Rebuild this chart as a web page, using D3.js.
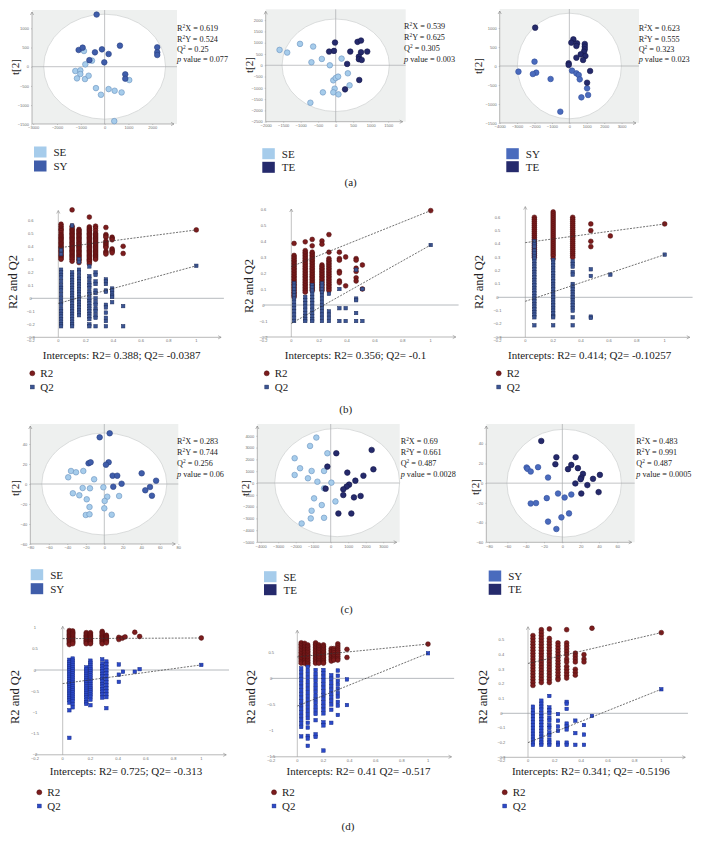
<!DOCTYPE html>
<html><head><meta charset="utf-8">
<script src="https://cdn.jsdelivr.net/npm/d3@7"></script>
<style>body{margin:0;background:#fff}svg{display:block}</style>
</head><body><svg id="chart"></svg>
<script>
// ---------------- DATA ----------------
// Score plots (a): [t1, t2]
const a1SE=[[-867,409],[-531,157],[-811,61],[-1231,-113],[-1021,-96],[-1021,-191],[-1161,-304],[-825,-322],[-671,-235],[-364,-557],[-154,-730],[168,-583],[420,-626],[713,-670],[1035,-348],[405,-1417]];
const a1SY=[[-336,1357],[-1091,435],[-923,496],[-406,374],[-112,452],[168,330],[643,548],[-14,113],[-640,170],[2210,504],[2210,374],[2210,304],[867,-200],[867,-313]];
const a2SE=[[-1604,681],[-1386,563],[-1020,948],[-644,830],[-693,133],[-396,281],[-168,0],[168,296],[347,-356],[-69,-667],[0,-563],[69,-504],[396,-889],[-30,-1037],[-366,-1200],[-69,-1200],[79,-1289],[-723,-1659]];
const a2TE=[[-20,1007],[-188,607],[-50,637],[624,1037],[723,1096],[416,607],[723,578],[901,607],[663,385],[663,267],[743,237],[327,59],[673,-652],[267,-1067]];
const a3SY=[[-2923,-149],[-2000,114],[-1904,-175],[-2096,-211],[-1077,-342],[154,-123],[404,-193],[538,-237],[596,-351],[1019,-588],[1077,-763],[692,-825],[-519,-1202]];
const a3TE=[[-1962,1009],[231,702],[115,614],[442,596],[404,526],[885,579],[885,509],[885,439],[846,377],[654,307],[923,263],[788,158],[404,219],[-38,70],[-38,26],[1192,-132],[1019,-439]];
// Score plots (c)
const c1SE=[[-36,13],[-30.6,11.7],[-39,6.7],[-22.7,13],[-11,4.7],[-23.4,-4],[-15.5,-4.3],[-34,-9.3],[-27,-11.3],[-19,-15.3],[-1,-3.3],[3.2,-12.7],[0.4,-17],[16,-12],[-16,-23],[0,-24.3],[-20,-31],[-16,-30.3],[8,-30.7]];
const c1SY=[[-5,46.7],[5.8,50.7],[-17,20.7],[-14.8,21.7],[4.7,21.7],[1.8,19.3],[9,8.3],[14,8.3],[18.7,0.3],[9.7,-2.7],[40.4,10.7],[56,3.3],[49.4,-3],[44.3,-6.3],[51.5,-11.7]];
const c2SE=[[-820,3850],[-1180,3140],[-190,2520],[-2060,2100],[-1750,1250],[-1090,1020],[-2060,680],[-380,1020],[-1300,400],[-760,110],[40,30],[-380,-450],[-950,-1300],[-510,-1870],[270,-1560],[-1090,-2350],[-1140,-3000],[-380,-2950],[-1660,-3430]];
const c2TE=[[320,2520],[-190,1390],[2340,2800],[2440,1160],[950,880],[1870,620],[1410,200],[1050,-140],[910,-310],[720,-540],[-290,-480],[720,-1020],[1330,-1220],[1710,-1100],[440,-2580],[1180,-2580]];
const c3SY=[[-39,15.9],[-38,14.5],[-34.5,11.8],[-26.5,16.2],[-15.6,5.7],[-17,-15.2],[-4.7,-10.5],[2.5,-14.5],[9.8,-11.5],[-34.5,-20.6],[-28.7,-20.2],[7.3,-30.7],[-1,-34.7],[-15.6,-39],[-6.5,-46.5]];
const c3TE=[[-23,42.8],[-6.5,26.3],[14.5,26.3],[-7.6,19.2],[9.8,18.5],[6.2,14.2],[17,15.2],[22.5,9.4],[20.7,5.7],[20,4],[33.5,4.4],[41,8.4],[14.2,-0.3],[27.3,-2],[20.7,-10.5],[39.6,-9.1]];
// ellipses [cx, cy, rx, ry] in data units
const ellipses={a1:[0,0,2560,1367],a2:[0,0,1533,2050],a3:[0,0,2990,1390],c1:[0,0,67.6,51],c2:[370,40,3570,4590],c3:[2,0,62.5,54.7]};
// model statistics: R2X, R2Y, Q2, p value
const a1Stats=["0.619","0.524","0.25","0.077"];
const a2Stats=["0.539","0.625","0.305","0.003"];
const a3Stats=["0.623","0.555","0.323","0.023"];
const c1Stats=["0.283","0.744","0.256","0.06"];
const c2Stats=["0.69","0.661","0.487","0.0028"];
const c3Stats=["0.483","0.991","0.487","0.0005"];
// axis ticks
const a1Xt=[-3000,-2000,-1000,0,1000,2000], a1Yt=[-1500,-1000,-500,0,500,1000];
const a2Xt=[-2000,-1500,-1000,-500,0,500,1000,1500], a2Yt=[-2500,-2000,-1500,-1000,-500,0,500,1000,1500,2000];
const a3Xt=[-4000,-3000,-2000,-1000,0,1000,2000,3000], a3Yt=[-1500,-1000,-500,0,500,1000];
const c1Xt=[-80,-60,-40,-20,0,20,40,60,80], c1Yt=[-60,-40,-20,0,20,40];
const c2Xt=[-4000,-3000,-2000,-1000,0,1000,2000,3000], c2Yt=[-5000,-4000,-3000,-2000,-1000,0,1000,2000,3000,4000];
const c3Xt=[-80,-60,-40,-20,0,20,40,60], c3Yt=[-60,-40,-20,0,20,40];
const permXt=[-0.2,0,0.2,0.4,0.6,0.8,1];

// Permutation plots: [correlation, [values...]]
const b1R2=[[0.02,[0.57,0.555,0.54,0.53,0.52,0.505,0.49,0.48,0.47,0.46,0.45,0.44,0.43,0.42,0.41,0.40,0.39,0.38,0.37,0.36,0.35,0.34,0.33,0.32,0.31,0.30]],
 [0.10,[0.68,0.555,0.54,0.53,0.52,0.51,0.50,0.49,0.48,0.47,0.46,0.45,0.44,0.43,0.42,0.41,0.40,0.39,0.38,0.37,0.36,0.35,0.34,0.33,0.32,0.31,0.30,0.285]],
 [0.15,[0.53,0.52,0.51,0.50,0.49,0.48,0.47,0.46,0.45,0.44,0.43,0.42,0.41,0.40,0.39,0.38,0.37,0.36,0.35,0.34,0.33,0.32,0.31,0.30,0.29,0.275]],
 [0.225,[0.625,0.55,0.54,0.53,0.52,0.51,0.50,0.49,0.48,0.47,0.46,0.45,0.44,0.43,0.42,0.41,0.40,0.39,0.38,0.37,0.36,0.35,0.34,0.33,0.32,0.31,0.30,0.29,0.28,0.265]],
 [0.27,[0.555,0.54,0.52,0.50,0.49,0.48,0.47,0.46,0.45,0.44,0.43,0.42,0.41,0.40,0.39,0.38,0.37,0.36,0.35,0.34,0.33,0.32,0.31,0.30]],
 [0.345,[0.545,0.49,0.48,0.47,0.44,0.43,0.42,0.41,0.40,0.39,0.36,0.35,0.34]],
 [0.39,[0.47,0.46,0.45,0.38,0.37,0.36,0.35]],
 [0.47,[0.40,0.345]],
 [1,[0.526]]];
const b1Q2=[[0.02,[0.37,0.34,0.22,0.20,0.18,0.16,0.13,0.10,0.08,0.06,0.03,0.0,-0.03,-0.05,-0.08,-0.10,-0.12,-0.14,-0.16,-0.18,-0.20,-0.215]],
 [0.10,[0.56,0.20,0.18,0.16,0.14,0.12,0.10,0.08,0.06,0.04,0.02,0.0,-0.02,-0.04,-0.06,-0.08,-0.10,-0.12,-0.14,-0.16,-0.18,-0.20,-0.215]],
 [0.15,[0.30,0.28,0.22,0.20,0.17,0.15,0.13,0.11,0.09,0.07,0.05,0.03,0.01,-0.01,-0.03,-0.05,-0.07,-0.09,-0.11,-0.13]],
 [0.225,[0.245,0.17,0.15,0.12,0.10,0.08,0.05,0.03,0.0,-0.02,-0.04,-0.06,-0.08,-0.10,-0.12,-0.14,-0.16,-0.20,-0.215]],
 [0.27,[0.20,0.18,0.13,0.11,0.06,0.04,0.0,-0.03,-0.05,-0.08,-0.10,-0.13,-0.15,-0.215]],
 [0.345,[0.145,0.13,0.11,0.06,0.05,-0.05,-0.07,-0.11,-0.15,-0.175,-0.215]],
 [0.39,[0.075,0.06,0.04,0.02,0.01,-0.03]],
 [0.47,[-0.06,-0.215]],
 [1,[0.25]]];
const b2R2=[[0.02,[0.385,0.31,0.30,0.29,0.28,0.27,0.26,0.25,0.24,0.23,0.22,0.21,0.20,0.19,0.18,0.17,0.16,0.15,0.14,0.13,0.12,0.11,0.10,0.09,0.08,0.07,0.06,0.05]],
 [0.10,[0.395,0.34,0.33,0.32,0.31,0.30,0.29,0.28,0.27,0.26,0.25,0.24,0.23,0.22,0.21,0.20,0.19,0.18,0.17,0.16,0.15,0.14,0.13,0.12,0.11,0.10,0.09,0.08]],
 [0.15,[0.41,0.37,0.33,0.32,0.31,0.30,0.29,0.28,0.27,0.26,0.25,0.24,0.23,0.22,0.21,0.20,0.19,0.18,0.17,0.16,0.15,0.14,0.13,0.12,0.11,0.10,0.09]],
 [0.22,[0.40,0.38,0.25,0.24,0.23,0.22,0.21,0.20,0.19,0.18,0.17,0.16,0.15,0.14,0.13,0.12,0.11,0.10,0.09]],
 [0.27,[0.44,0.33,0.29,0.28,0.27,0.26,0.25,0.24,0.23,0.22,0.21,0.20,0.19,0.18,0.17,0.16,0.15,0.14,0.13,0.12,0.11,0.10,0.09]],
 [0.345,[0.33,0.29,0.28,0.21,0.20,0.15,0.14]],
 [0.39,[0.30,0.12]],
 [0.465,[0.29,0.28,0.23,0.21,0.17,0.15]],
 [0.51,[0.25,0.10]],
 [1,[0.59]]];
const b2Q2=[[0.02,[0.135,0.12,0.10,0.08,0.06,0.04,0.02,0.0,-0.02,-0.04,-0.06,-0.08,-0.10]],
 [0.10,[0.05,0.03,0.01,-0.01,-0.03,-0.05,-0.07,-0.09,-0.10]],
 [0.15,[0.125,0.11,0.09,0.07,0.05,0.03,0.01,-0.01,-0.03,-0.05,-0.07,-0.09,-0.10]],
 [0.22,[0.135,0.12,0.10,0.08,0.06,0.04,0.02,0.0,-0.02,-0.04,-0.06,-0.08,-0.10]],
 [0.27,[0.07,-0.04,-0.06,-0.08,-0.10]],
 [0.345,[0.10,-0.02,-0.10]],
 [0.39,[-0.02,-0.10]],
 [0.465,[0.22,0.04,0.03,-0.05,-0.10]],
 [0.51,[0.10,-0.10]],
 [1,[0.375]]];
const b3R2=[[0.065,[0.6,0.585,0.57,0.555,0.54,0.525,0.51,0.495,0.48,0.465,0.45,0.435,0.42,0.405,0.39,0.375,0.36,0.345,0.33,0.315,0.3]],
 [0.2,[0.64,0.625,0.61,0.595,0.58,0.565,0.55,0.535,0.52,0.505,0.49,0.475,0.46,0.445,0.43,0.415,0.4,0.385,0.37,0.355,0.34,0.325,0.31,0.29]],
 [0.34,[0.6,0.585,0.57,0.555,0.54,0.525,0.51,0.495,0.48,0.465,0.45,0.435,0.42,0.405,0.39,0.375,0.36,0.345,0.33,0.315,0.3]],
 [0.47,[0.55,0.5,0.42,0.38]],
 [0.61,[0.46]],
 [1,[0.55]]];
const b3Q2=[[0.065,[0.42,0.4,0.38,0.35,0.33,0.31,0.29,0.27,0.25,0.23,0.21,0.19,0.17,0.15,0.13,0.11,0.09,0.07,0.05,0.03,0.01,-0.01,-0.03,-0.05,-0.07,-0.09,-0.11,-0.13,-0.15,-0.21]],
 [0.2,[0.28,0.26,0.24,0.22,0.2,0.18,0.16,0.14,0.12,0.1,0.08,0.06,0.04,0.02,0,-0.02,-0.04,-0.06,-0.08,-0.1,-0.12,-0.14,-0.15,-0.21]],
 [0.34,[0.27,0.25,0.23,0.19,0.17,0.1,0.08,0.06,0.04,0.02,0,-0.02,-0.04,-0.06,-0.08,-0.1,-0.15,-0.21]],
 [0.47,[0.21,0.16,-0.145,-0.155]],
 [0.61,[0.17]],
 [1,[0.32]]];
const d1R2=[[0.048,[0.93,0.9,0.87,0.84,0.81,0.78,0.75,0.72,0.69,0.66,0.63,0.6]],
 [0.072,[0.92,0.89,0.86,0.83,0.8,0.77,0.74,0.71,0.68,0.65,0.62]],
 [0.17,[0.88,0.85,0.82,0.79,0.76,0.73,0.7,0.67,0.64,0.62]],
 [0.2,[0.88,0.85,0.82,0.79,0.76,0.73,0.7,0.67,0.64,0.62]],
 [0.285,[0.91,0.88,0.85,0.82,0.79,0.76,0.73,0.7,0.67,0.64,0.62]],
 [0.315,[0.82,0.79,0.76,0.73,0.7,0.67,0.64]],
 [0.405,[0.77,0.72]],[0.43,[0.75]],[0.45,[0.78]],[0.52,[0.89]],[0.555,[0.79]],
 [1,[0.755]]];
const d1Q2=[[0.048,[0.24,0.19,0.14,0.09,0.04,-0.01,-0.06,-0.11,-0.16,-0.21,-0.26,-0.31,-0.36,-0.41,-0.46,-0.51,-0.56,-0.61,-0.66,-0.71,-0.77,-0.95,-1.6]],
 [0.072,[0.27,0.22,0.17,0.12,0.07,0.02,-0.03,-0.08,-0.13,-0.18,-0.23,-0.28,-0.33,-0.38,-0.43,-0.48,-0.53,-0.58,-0.63,-0.68,-0.73,-0.8,-0.88]],
 [0.17,[0.06,0.01,-0.04,-0.09,-0.14,-0.19,-0.24,-0.29,-0.34,-0.39,-0.44,-0.49,-0.54,-0.59,-0.64,-0.7,-0.76,-0.8]],
 [0.2,[0.22,0.17,0.12,0.07,0.02,-0.03,-0.08,-0.13,-0.18,-0.23,-0.28,-0.33,-0.38,-0.43,-0.48,-0.53,-0.58,-0.63,-0.7,-0.83]],
 [0.285,[0.25,0.15,0.09,0.03,-0.03,-0.09,-0.15,-0.21,-0.27,-0.33,-0.39,-0.45,-0.51,-0.57,-0.65]],
 [0.315,[0.2,0.13,0.06,-0.01,-0.08,-0.15,-0.22,-0.29,-0.36,-0.43,-0.5,-0.57,-0.64,-0.9]],
 [0.405,[0.13,-0.11,-0.28]],[0.435,[-0.04]],[0.52,[-0.04]],[0.555,[0.02]],
 [1,[0.12]]];
const d2R2=[[0.03,[0.68,0.65,0.62,0.59,0.56,0.53,0.5,0.47,0.44,0.41,0.38,0.35,0.32,0.29]],
 [0.056,[0.67,0.64,0.61,0.58,0.55,0.52,0.49,0.46,0.43,0.4,0.37,0.34,0.31,0.29]],
 [0.08,[0.64,0.61,0.58,0.55,0.52,0.49,0.46,0.43,0.4,0.37,0.34,0.31,0.28,0.25]],
 [0.14,[0.68,0.65,0.62,0.59,0.56,0.53,0.5,0.47,0.44,0.41,0.38,0.35,0.32,0.29]],
 [0.165,[0.64,0.61,0.58,0.55,0.52,0.49,0.46,0.43,0.4,0.37,0.34,0.31,0.29]],
 [0.2,[0.64,0.61,0.58,0.55,0.52,0.49,0.46,0.43,0.4,0.37,0.34,0.31,0.29]],
 [0.26,[0.57,0.54,0.51,0.48,0.45,0.42,0.39,0.36,0.33]],
 [0.28,[0.57,0.53,0.49,0.45,0.41,0.38,0.35]],
 [0.31,[0.66,0.62,0.58,0.54,0.5,0.46,0.42,0.38,0.35]],
 [0.38,[0.555,0.4]],
 [1,[0.656]]];
const d2Q2=[[0.03,[0.19,0.12,0.05,-0.02,-0.09,-0.16,-0.23,-0.3,-0.37,-0.44,-0.51,-0.58,-0.65,-0.72,-0.79,-0.86,-0.93,-1.11]],
 [0.08,[0.22,0.15,0.08,0.01,-0.06,-0.13,-0.2,-0.27,-0.34,-0.41,-0.48,-0.55,-0.62,-0.69,-0.76,-0.85,-0.94,-1.1,-1.15,-1.29]],
 [0.14,[0.16,0.09,0.02,-0.05,-0.12,-0.19,-0.26,-0.33,-0.4,-0.47,-0.54,-0.61,-0.68,-0.8,-1.07,-1.12]],
 [0.2,[0.16,0.1,0.03,-0.04,-0.11,-0.18,-0.25,-0.32,-0.39,-0.46,-0.53,-0.6,-0.67,-0.84,-0.9,-1.38]],
 [0.26,[0.06,-0.01,-0.08,-0.15,-0.22,-0.29,-0.36,-0.43,-0.5,-0.6,-0.85]],
 [0.31,[0.15,0.05,-0.05,-0.12,-0.2,-0.28,-0.35,-0.45,-0.52,-0.7]],
 [0.38,[-0.02,-0.51]],
 [1,[0.48]]];
const d3R2=[[0.037,[0.53,0.51,0.49,0.47,0.45,0.43,0.41,0.39,0.37,0.35,0.33,0.31,0.29,0.27,0.25,0.23,0.21,0.19]],
 [0.1,[0.57,0.55,0.53,0.51,0.49,0.47,0.45,0.43,0.41,0.39,0.37,0.35,0.33,0.31,0.29,0.27,0.25,0.23,0.21]],
 [0.16,[0.575,0.51,0.49,0.47,0.45,0.43,0.41,0.39,0.37,0.35,0.33,0.31,0.29,0.27,0.25,0.23,0.21]],
 [0.225,[0.48,0.46,0.44,0.42,0.40,0.38,0.36,0.34,0.32,0.30,0.28,0.26,0.24,0.23]],
 [0.29,[0.57,0.48,0.46,0.44,0.42,0.40,0.37,0.35,0.32,0.30,0.28,0.26,0.24]],
 [0.355,[0.41,0.39,0.37,0.35,0.30,0.28,0.26]],
 [0.42,[0.40,0.37,0.35]],
 [0.48,[0.58]],
 [1,[0.55]]];
const d3Q2=[[0.037,[0.045,0.02,0.0,-0.02,-0.04,-0.06,-0.08,-0.1,-0.12,-0.14,-0.16,-0.18,-0.2,-0.215]],
 [0.1,[0.086,0.065,0.045,0.025,0.0,-0.02,-0.04,-0.06,-0.08,-0.1,-0.12,-0.14,-0.16,-0.18,-0.2,-0.215]],
 [0.16,[0.118,0.04,0.02,0.0,-0.03,-0.05,-0.08,-0.1,-0.13,-0.15,-0.18,-0.2,-0.215]],
 [0.225,[-0.005,-0.05,-0.09,-0.12,-0.2,-0.215]],
 [0.29,[0.078,0.065,0.03,-0.07,-0.09,-0.11,-0.2,-0.215]],
 [0.355,[-0.05,-0.135,-0.215]],
 [0.42,[-0.08,-0.145,-0.215]],
 [0.48,[-0.018]],
 [1,[0.164]]];
// regression lines as drawn: [[x0,y0],[x1,y1]]
const b1Lines={r2:[[0,0.388],[1,0.526]],q2:[[0,-0.039],[1,0.25]]};
const b2Lines={r2:[[0,0.24],[1,0.59]],q2:[[0,-0.115],[1,0.375]]};
const b3Lines={r2:[[0,0.41],[1,0.55]],q2:[[0,-0.03],[1,0.32]]};
const d1Lines={r2:[[0,0.74],[1,0.755]],q2:[[0,-0.32],[1,0.12]]};
const d2Lines={r2:[[0,0.41],[1,0.656]],q2:[[0,-0.53],[1,0.48]]};
const d3Lines={r2:[[0,0.34],[1,0.55]],q2:[[0,-0.2],[1,0.164]]};
const intercepts=["Intercepts: R2= 0.388; Q2= -0.0387","Intercepts: R2= 0.356; Q2= -0.1","Intercepts: R2= 0.414; Q2= -0.10257",
 "Intercepts: R2= 0.725; Q2= -0.313","Intercepts: R2= 0.41 Q2= -0.517","Intercepts: R2= 0.341; Q2= -0.5196"];
const panelLabels=["(a)","(b)","(c)","(d)"];

// ---------------- DRAWING ----------------
const W=702,H=847;
const SERIF='"Liberation Serif","Times New Roman",serif';
const SANS='"Liberation Sans",Arial,sans-serif';
const svg=d3.select('#chart').attr('width',W).attr('height',H);
svg.append('rect').attr('width',W).attr('height',H).attr('fill','#fff');
const fill={SE:'#a6cceb',SY:'#3f5daa',SY2:'#4a6bbd',TE:'#252a6c'};
const strk={SE:'#6a92bd',SY:'#283f82',SY2:'#304e9a',TE:'#14174a'};

function arrowRight(g,x,y){g.append('path').attr('d',`M${x-3},${y-1.6}L${x},${y}L${x-3},${y+1.6}`).attr('fill','none').attr('stroke','#888').attr('stroke-width',0.6);}
function arrowUp(g,x,y){g.append('path').attr('d',`M${x-1.6},${y+3}L${x},${y}L${x+1.6},${y+3}`).attr('fill','none').attr('stroke','#888').attr('stroke-width',0.6);}

function scatter(c,groups,stats){
  const g=svg.append('g');
  const x=d3.scaleLinear().domain(c.xd).range([c.x0,c.x1]);
  const y=d3.scaleLinear().domain(c.yd).range([c.y1,c.y0]);
  g.append('rect').attr('x',c.x0).attr('y',c.y0).attr('width',c.x1-c.x0).attr('height',c.y1-c.y0).attr('fill','#eef0ef');
  const e=c.ell;
  g.append('ellipse').attr('cx',x(e[0])).attr('cy',y(e[1])).attr('rx',x(e[0]+e[2])-x(e[0])).attr('ry',y(e[1])-y(e[1]+e[3]))
    .attr('fill','#fff').attr('stroke','#d2d4d4').attr('stroke-width',0.8);
  g.append('line').attr('x1',c.x0).attr('x2',c.x1).attr('y1',y(0)).attr('y2',y(0)).attr('stroke','#a8abad').attr('stroke-width',0.7);
  g.append('line').attr('x1',x(0)).attr('x2',x(0)).attr('y1',c.y0).attr('y2',c.y1).attr('stroke','#a8abad').attr('stroke-width',0.7);
  const sty=s=>{s.select('.domain').remove();s.selectAll('line').attr('stroke','#999').attr('stroke-width',0.5);
    s.selectAll('text').attr('font-size',4).attr('fill','#707070').attr('font-family',SANS);};
  g.append('g').attr('transform',`translate(0,${c.y1})`).call(d3.axisBottom(x).tickValues(c.xt).tickSize(1).tickPadding(1.5).tickFormat(d3.format('d'))).call(sty);
  g.append('g').attr('transform',`translate(${c.x0},0)`).call(d3.axisLeft(y).tickValues(c.yt).tickSize(1).tickPadding(2).tickFormat(d3.format('d'))).call(sty);
  g.append('line').attr('x1',c.x0).attr('x2',c.x1-3).attr('y1',c.y1).attr('y2',c.y1).attr('stroke','#888').attr('stroke-width',0.6);
  arrowRight(g,c.x1-3,c.y1);
  g.append('line').attr('x1',c.x0).attr('x2',c.x0).attr('y1',c.y1).attr('y2',c.y0+2).attr('stroke','#888').attr('stroke-width',0.6);
  arrowUp(g,c.x0,c.y0+2);
  groups.forEach(gr=>{
    g.append('g').selectAll('circle').data(gr.pts).join('circle')
      .attr('cx',d=>x(d[0])).attr('cy',d=>y(d[1])).attr('r',2.8)
      .attr('fill',fill[gr.key]).attr('stroke',strk[gr.key]).attr('stroke-width',0.6);
  });
  // stats
  const st=g.append('g').attr('font-family',SERIF).attr('font-size',8.2).attr('fill','#222');
  const rows=[['R','2','X = '+stats[0]],['R','2','Y = '+stats[1]],['Q','2',' = '+stats[2]]];
  rows.forEach((r,i)=>{
    const t=st.append('text').attr('x',c.sx).attr('y',c.sy+i*c.sdy);
    t.append('tspan').text(r[0]);
    t.append('tspan').attr('dy',-3).attr('font-size',5.4).text(r[1]);
    t.append('tspan').attr('dy',3).text(r[2]);
  });
  const tp=st.append('text').attr('x',c.sx).attr('y',c.sy+3*c.sdy);
  tp.append('tspan').attr('font-style','italic').text('p');
  tp.append('tspan').text(' value = '+stats[3]);
  // y label
  g.append('text').attr('transform',`translate(${c.lx},${c.ly}) rotate(-90)`).attr('text-anchor','middle')
    .attr('font-family',SERIF).attr('font-size',11).attr('fill','#222').text('t[2]');
  // legend
  groups.forEach((gr,i)=>{
    const cy=c.legY+i*c.legDy;
    g.append('rect').attr('x',c.legX).attr('y',cy-5.5).attr('width',12.5).attr('height',11).attr('fill',fill[gr.key]);
    g.append('text').attr('x',c.legX+19.5).attr('y',cy+4).attr('font-family',SERIF).attr('font-size',11).attr('fill','#222').text(gr.name);
  });
}

function perm(c,r2,q2,lines,inter,qf,qs){
  const g=svg.append('g');
  const x=d3.scaleLinear().domain([0,1]).range([c.x0,c.x1]);
  const y=d3.scaleLinear().domain(c.yd).range(c.yr);
  const yb=y(c.yd[0]);
  g.append('line').attr('x1',x(-0.2)).attr('x2',x(1.2)).attr('y1',y(0)).attr('y2',y(0)).attr('stroke','#a3a8ad').attr('stroke-width',0.8);
  g.append('line').attr('x1',x(-0.2)).attr('x2',x(1.18)).attr('y1',yb).attr('y2',yb).attr('stroke','#888').attr('stroke-width',0.6);
  arrowRight(g,x(1.18),yb);
  g.append('line').attr('x1',x(0)).attr('x2',x(0)).attr('y1',yb).attr('y2',y(c.ytop)).attr('stroke','#999').attr('stroke-width',0.6);
  arrowUp(g,x(0),y(c.ytop));
  const tf=d3.format('');
  g.append('g').selectAll('text').data(permXt).join('text').attr('x',d=>x(d)).attr('y',yb+5).attr('text-anchor','middle')
    .attr('font-family',SANS).attr('font-size',4).attr('fill','#707070').text(d=>tf(d));
  g.append('g').selectAll('text').data(c.yt).join('text').attr('x',x(-0.2)).attr('y',d=>y(d)+1.5).attr('text-anchor','middle')
    .attr('font-family',SANS).attr('font-size',4).attr('fill','#707070').text(d=>tf(d));
  const flat=cols=>cols.flatMap(cc=>cc[1].map(v=>[cc[0],v]));
  g.append('g').selectAll('circle').data(flat(r2)).join('circle').attr('cx',d=>x(d[0])).attr('cy',d=>y(d[1])).attr('r',2.4)
    .attr('fill','#7c1c1d').attr('stroke','#4a0c0d').attr('stroke-width',0.5);
  g.append('g').selectAll('rect').data(flat(q2)).join('rect').attr('x',d=>x(d[0])-1.75).attr('y',d=>y(d[1])-1.75).attr('width',3.5).attr('height',3.5)
    .attr('fill',qf).attr('stroke',qs).attr('stroke-width',0.5);
  const ln=d3.line().x(d=>x(d[0])).y(d=>y(d[1]));
  [lines.r2,lines.q2].forEach(l=>g.append('path').attr('d',ln(l)).attr('fill','none').attr('stroke','#333').attr('stroke-width',0.7).attr('stroke-dasharray','2,1.3'));
  g.append('text').attr('transform',`translate(${c.lx},${c.ly}) rotate(-90)`).attr('text-anchor','middle')
    .attr('font-family',SERIF).attr('font-size',12.5).attr('fill','#222').text('R2 and Q2');
  g.append('text').attr('x',c.ix).attr('y',c.iy).attr('text-anchor','middle').attr('font-family',SERIF).attr('font-size',11).attr('fill','#222').text(inter);
  g.append('circle').attr('cx',c.legX).attr('cy',c.legY).attr('r',2.5).attr('fill','#7c1c1d').attr('stroke','#4a0c0d').attr('stroke-width',0.5);
  g.append('rect').attr('x',c.legX-1.9).attr('y',c.legY+13.7-1.9).attr('width',3.8).attr('height',3.8).attr('fill',qf).attr('stroke',qs).attr('stroke-width',0.5);
  ['R2','Q2'].forEach((t,i)=>g.append('text').attr('x',c.legX+8).attr('y',c.legY+i*13.7+3.8).attr('font-family',SERIF).attr('font-size',11).attr('fill','#222').text(t));
}

// layouts (pixel geometry)
scatter({x0:32,x1:177,y0:10,y1:124,xd:[-3050,3040],yd:[-1492,1476],xt:a1Xt,yt:a1Yt,ell:ellipses.a1,sx:177,sy:31.3,sdy:10.3,lx:18.5,ly:67,legX:34,legY:152,legDy:14},
  [{key:'SE',name:'SE',pts:a1SE},{key:'SY',name:'SY',pts:a1SY}],a1Stats);
scatter({x0:265.7,x1:405.7,y0:9.3,y1:121.7,xd:[-2000,2000],yd:[-2500,2480],xt:a2Xt,yt:a2Yt,ell:ellipses.a2,sx:404,sy:29,sdy:11,lx:252.5,ly:65,legX:262.3,legY:153.7,legDy:13.6},
  [{key:'SE',name:'SE',pts:a2SE},{key:'TE',name:'TE',pts:a2TE}],a2Stats);
scatter({x0:499.7,x1:639,y0:9,y1:123,xd:[-4000,4000],yd:[-1500,1500],xt:a3Xt,yt:a3Yt,ell:ellipses.a3,sx:638.7,sy:31.3,sdy:10.3,lx:481.5,ly:66,legX:506.3,legY:153.7,legDy:13},
  [{key:'SY2',name:'SY',pts:a3SY},{key:'TE',name:'TE',pts:a3TE}],a3Stats);
scatter({x0:30.3,x1:178.3,y0:424,y1:544,xd:[-80,80],yd:[-60,60],xt:c1Xt,yt:c1Yt,ell:ellipses.c1,sx:177,sy:444,sdy:11,lx:18.5,ly:488,legX:30.7,legY:574.7,legDy:14},
  [{key:'SE',name:'SE',pts:c1SE},{key:'SY',name:'SY',pts:c1SY}],c1Stats);
scatter({x0:257.3,x1:399.7,y0:424,y1:542.3,xd:[-4194,3943],yd:[-5025,5000],xt:c2Xt,yt:c2Yt,ell:ellipses.c2,sx:400.7,sy:444,sdy:11,lx:249,ly:488,legX:264,legY:576.7,legDy:13},
  [{key:'SE',name:'SE',pts:c2SE},{key:'TE',name:'TE',pts:c2TE}],c2Stats);
scatter({x0:486.3,x1:634.7,y0:424,y1:542.3,xd:[-83,79],yd:[-60,60],xt:c3Xt,yt:c3Yt,ell:ellipses.c3,sx:636.3,sy:444,sdy:11,lx:478.5,ly:487,legX:488.7,legY:576,legDy:13.3},
  [{key:'SY2',name:'SY',pts:c3SY},{key:'TE',name:'TE',pts:c3TE}],c3Stats);

const bQf='#3b5594',bQs='#1f2e5c',dQf='#2b49c9',dQs='#182c86';
const yt3=[-0.3,-0.2,-0.1,0,0.1,0.2,0.3,0.4,0.5,0.6];
perm({x0:58.3,x1:196.3,yd:[-0.3,0.7],yr:[337.3,207.3],ytop:0.675,yt:yt3,lx:17,ly:282,ix:121.7,iy:358.5,legX:32.3,legY:373.3},b1R2,b1Q2,b1Lines,intercepts[0],bQf,bQs);
perm({x0:291.3,x1:430.7,yd:[-0.2,0.6],yr:[337,209],ytop:0.6,yt:[-0.2,-0.1,0,0.1,0.2,0.3,0.4,0.5,0.6],lx:252.5,ly:286,ix:355.5,iy:358.5,legX:266.7,legY:373.3},b2R2,b2Q2,b2Lines,intercepts[1],bQf,bQs);
perm({x0:525.3,x1:664.7,yd:[-0.3,0.6],yr:[337.3,217.3],ytop:0.68,yt:yt3,lx:483,ly:282,ix:589.7,iy:358.5,legX:498.7,legY:373.3},b3R2,b3Q2,b3Lines,intercepts[2],bQf,bQs);
perm({x0:62.7,x1:201.3,yd:[-2,1],yr:[754.8,627.6],ytop:1.03,yt:[-2,-1.5,-1,-0.5,0,0.5,1],lx:19,ly:697,ix:126,iy:774.5,legX:39.3,legY:792.3},d1R2,d1Q2,d1Lines,intercepts[3],dQf,dQs);
perm({x0:297.3,x1:428,yd:[-1.5,0.9],yr:[756.8,631.3],ytop:0.92,yt:[-1.5,-1,-0.5,0,0.5],lx:255,ly:697,ix:358.5,iy:774.5,legX:274,legY:792.3},d2R2,d2Q2,d2Lines,intercepts[4],dQf,dQs);
perm({x0:528,x1:661.3,yd:[-0.3,0.6],yr:[757.3,625.3],ytop:0.59,yt:[-0.3,-0.2,-0.1,0,0.1,0.2,0.3,0.4,0.5],lx:487,ly:697,ix:590.8,iy:774.5,legX:504.7,legY:792.3},d3R2,d3Q2,d3Lines,intercepts[5],dQf,dQs);

// panel labels
const plPos=[[350.7,185.5],[345.7,413],[346.7,613],[348,830]];
svg.append('g').selectAll('text').data(panelLabels).join('text').attr('x',(d,i)=>plPos[i][0]).attr('y',(d,i)=>plPos[i][1])
  .attr('text-anchor','middle').attr('font-family',SERIF).attr('font-size',11).attr('fill','#222').text(d=>d);
</script></body></html>
